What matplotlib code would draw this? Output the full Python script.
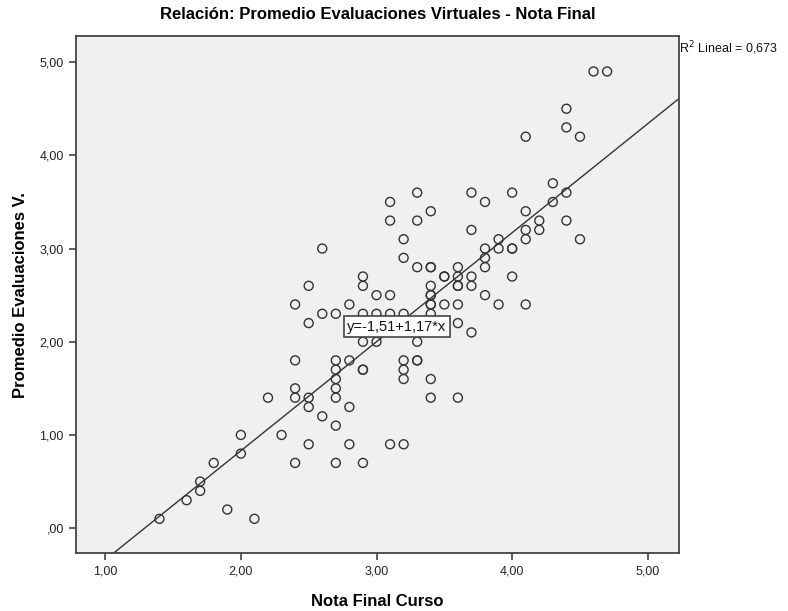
import matplotlib.pyplot as plt
import numpy as np

# Nota Final Curso (x) / Promedio Evaluaciones V. (y)
nota_final = [4.6, 4.7, 4.4, 4.4, 4.5, 4.1, 4.3, 4.3, 4.4, 4.0,
              3.8, 3.7, 4.1, 4.1, 4.1, 4.2, 4.2, 4.4, 4.5, 3.7,
              3.9, 3.9, 3.8, 4.0, 4.0, 3.8, 3.8, 4.0, 3.6, 3.7,
              3.7, 3.6, 3.6, 3.6, 3.5, 3.5, 3.4, 3.4, 3.3, 3.4,
              3.2, 3.2, 3.1, 3.1, 3.3, 3.3, 3.4, 2.6, 2.9, 2.9,
              2.5,
              3.0, 2.4, 2.8, 2.6, 2.7, 2.9, 3.0, 2.5, 2.9, 3.0,
              2.4, 2.7, 2.8, 2.9, 2.9, 2.7, 2.7, 2.7, 2.7, 2.4,
              2.4, 2.5, 2.2, 2.5, 2.8, 2.6, 2.7, 2.3, 2.5, 2.8,
              2.0, 2.0, 1.8, 2.4, 2.7, 2.9, 1.7, 1.7, 1.6, 1.9,
              1.4, 2.1,
              3.1, 3.4, 3.4, 3.8, 3.4, 3.4, 3.5, 3.6, 3.9, 4.1,
              3.1, 3.2, 3.4, 3.6, 3.7, 3.3, 3.2, 3.3, 3.3, 3.2,
              3.2, 3.4, 3.4, 3.6, 3.1, 3.2]
promedio_eval = [4.9, 4.9, 4.5, 4.3, 4.2, 4.2, 3.7, 3.5, 3.6, 3.6,
                 3.5, 3.6, 3.4, 3.2, 3.1, 3.3, 3.2, 3.3, 3.1, 3.2,
                 3.1, 3.0, 3.0, 3.0, 3.0, 2.9, 2.8, 2.7, 2.8, 2.7,
                 2.6, 2.7, 2.6, 2.6, 2.7, 2.7, 2.8, 2.8, 2.8, 2.6,
                 2.9, 3.1, 3.3, 3.5, 3.3, 3.6, 3.4, 3.0, 2.7, 2.6,
                 2.6,
                 2.5, 2.4, 2.4, 2.3, 2.3, 2.3, 2.3, 2.2, 2.0, 2.0,
                 1.8, 1.8, 1.8, 1.7, 1.7, 1.7, 1.6, 1.5, 1.4, 1.5,
                 1.4, 1.4, 1.4, 1.3, 1.3, 1.2, 1.1, 1.0, 0.9, 0.9,
                 1.0, 0.8, 0.7, 0.7, 0.7, 0.7, 0.5, 0.4, 0.3, 0.2,
                 0.1, 0.1,
                 2.5, 2.5, 2.5, 2.5, 2.4, 2.4, 2.4, 2.4, 2.4, 2.4,
                 2.3, 2.3, 2.3, 2.2, 2.1, 2.0, 1.8, 1.8, 1.8, 1.7,
                 1.6, 1.6, 1.4, 1.4, 0.9, 0.9]

intercept = -1.51
slope = 1.17
r2 = '0,673'

ticks = [1, 2, 3, 4, 5]
xtick_labels = ['1,00', '2,00', '3,00', '4,00', '5,00']
yticks = [0, 1, 2, 3, 4, 5]
ytick_labels = [',00', '1,00', '2,00', '3,00', '4,00', '5,00']

plt.rcParams['font.family'] = ['Liberation Sans', 'DejaVu Sans']

fig = plt.figure(figsize=(7.88, 6.11), dpi=100)
ax = fig.add_axes([0.096, 0.0944, 0.766, 0.8466])
ax.set_facecolor('#f0f0f0')

ax.scatter(nota_final, promedio_eval, s=42, facecolors='none',
           edgecolors='#333333', linewidths=1.0, zorder=3)

xlim = (0.782, 5.232)
ylim = (-0.27, 5.28)
xs = np.array(xlim)
ax.plot(xs, intercept + slope * xs, color='#333333', lw=1.0, zorder=2)
ax.set_xlim(xlim)
ax.set_ylim(ylim)

ax.text(3.15, 2.16, 'y=-1,51+1,17*x', ha='center', va='center', fontsize=10.5,
        color='#111111', zorder=5,
        bbox=dict(boxstyle='square,pad=0.25', fc='white', ec='#444444', lw=1.2))

ax.text(0.999, 0.977, r'R$^2$ Lineal = ' + r2, transform=ax.transAxes,
        ha='left', va='center', fontsize=9, color='#111111')

ax.set_xticks(ticks)
ax.set_xticklabels(xtick_labels)
ax.set_yticks(yticks)
ax.set_yticklabels(ytick_labels)
ax.tick_params(direction='out', length=5, width=1.2, color='#444444',
               labelsize=9, labelcolor='#222222')

for sp in ax.spines.values():
    sp.set_color('#444444')
    sp.set_linewidth(1.3)

ax.set_title('Relación: Promedio Evaluaciones Virtuales - Nota Final',
             fontsize=12, fontweight='bold', pad=12)
ax.set_xlabel('Nota Final Curso', fontsize=12, fontweight='bold', labelpad=12)
ax.set_ylabel('Promedio Evaluaciones V.', fontsize=12, fontweight='bold', labelpad=8)

plt.savefig('out.png', dpi=100)
